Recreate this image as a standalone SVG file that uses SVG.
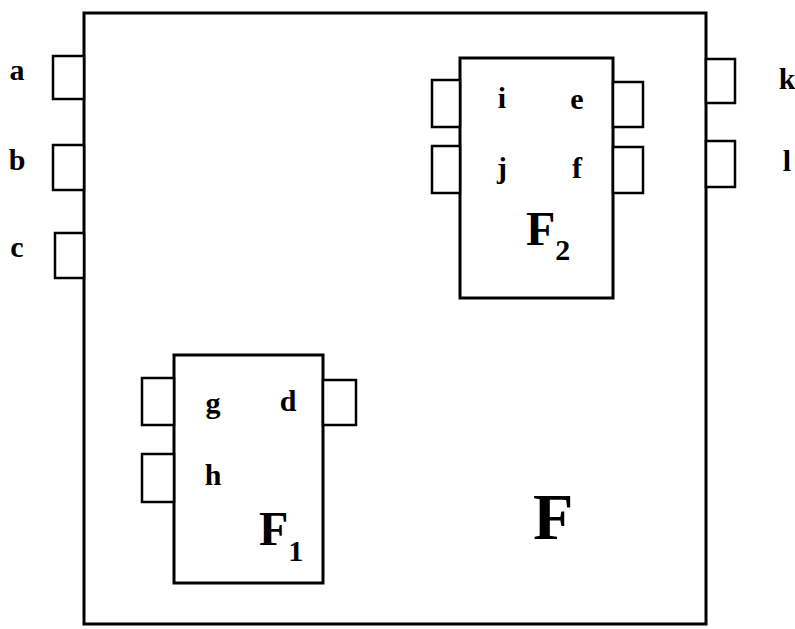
<svg xmlns="http://www.w3.org/2000/svg" width="795" height="629" viewBox="0 0 795 629">
<style>
.b{fill:#fff;stroke:#000;stroke-width:3}
.p{fill:#fff;stroke:#000;stroke-width:2.5}
.t{font-family:"Liberation Serif",serif;font-weight:bold;font-size:30px;fill:#000;text-anchor:middle}
.F{font-family:"Liberation Serif",serif;font-weight:bold;fill:#000}
</style>
<rect width="795" height="629" fill="#fff"/>
<g id="F">
<rect class="b" x="84" y="13" width="622" height="611"/>
<rect class="p" x="53" y="56" width="31" height="43"/>
<rect class="p" x="53" y="145" width="31" height="45"/>
<rect class="p" x="55" y="233" width="29" height="45"/>
<rect class="p" x="706" y="59" width="29" height="44"/>
<rect class="p" x="706" y="141" width="29" height="46"/>
<text class="t" x="17" y="80">a</text>
<text class="t" x="17" y="170">b</text>
<text class="t" x="17" y="257">c</text>
<text class="t" x="787" y="89">k</text>
<text class="t" x="787" y="171">l</text>
<text class="F" x="533" y="539" font-size="66">F</text>
</g>
<g id="F2">
<rect class="b" x="460" y="58" width="153" height="240"/>
<rect class="p" x="432" y="80" width="28" height="47"/>
<rect class="p" x="432" y="146" width="28" height="47"/>
<rect class="p" x="613" y="82" width="30" height="45"/>
<rect class="p" x="613" y="147" width="30" height="46"/>
<text class="t" x="502" y="108">i</text>
<text class="t" x="577" y="109">e</text>
<text class="t" x="502" y="178">j</text>
<text class="t" x="577" y="178">f</text>
<text class="F" x="526" y="245" font-size="48">F<tspan font-size="30" dy="15">2</tspan></text>
</g>
<g id="F1">
<rect class="b" x="174" y="355" width="149" height="228"/>
<rect class="p" x="142" y="378" width="32" height="47"/>
<rect class="p" x="142" y="454" width="32" height="48"/>
<rect class="p" x="323" y="380" width="33" height="45"/>
<text class="t" x="213" y="413">g</text>
<text class="t" x="288" y="411">d</text>
<text class="t" x="213" y="485">h</text>
<text class="F" x="259" y="545" font-size="48">F<tspan font-size="30" dy="16">1</tspan></text>
</g>
<g id="connectors"/>
</svg>
